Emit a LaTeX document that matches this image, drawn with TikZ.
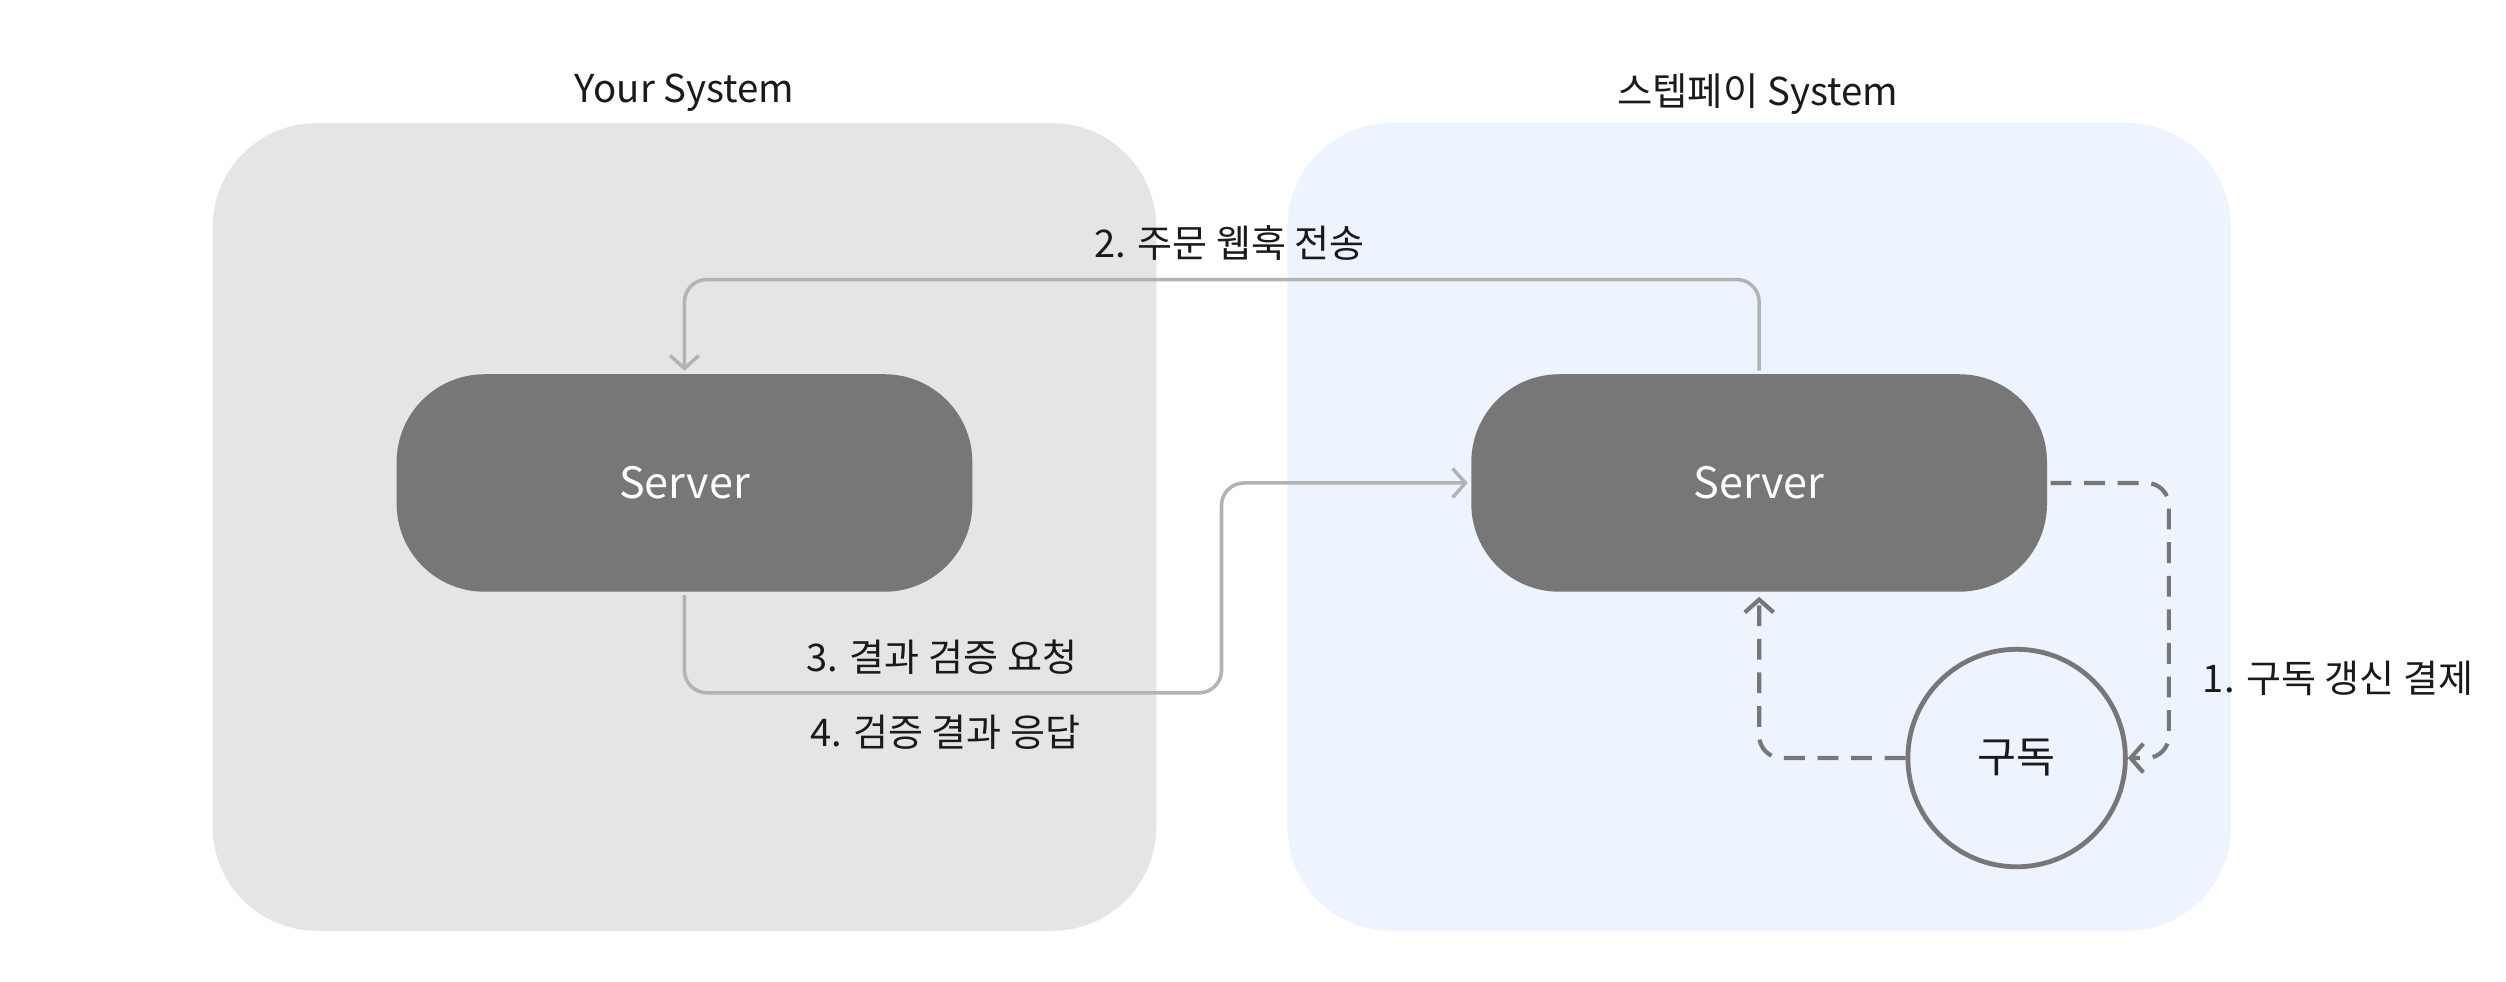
\documentclass[tikz,border=0pt]{standalone}
\usepackage{fontspec}
\setmainfont{Noto Sans CJK KR}
\usetikzlibrary{arrows.meta}
\definecolor{leftbg}{HTML}{E5E5E5}
\definecolor{rightbg}{HTML}{EDF4FE}
\definecolor{srv}{HTML}{777777}
\definecolor{lightarrow}{HTML}{B3B3B3}
\definecolor{darkline}{HTML}{777777}
\definecolor{txt}{HTML}{1A1A1A}
\tikzset{
  zone/.style={rounded corners=65pt, draw=none},
  serverbox/.style={fill=srv, draw=none, rounded corners=55pt, minimum width=360pt, minimum height=136pt, text=white, font=\fontsize{27}{32}\selectfont, inner sep=0pt},
  subnode/.style={circle, draw=darkline, line width=3pt, fill=rightbg, minimum size=136pt, inner sep=0pt, text=txt, font=\fontsize{26.5}{31}\selectfont},
  title/.style={text=txt, font=\fontsize{24}{28}\selectfont},
  lbl/.style={text=txt, font=\fontsize{23.8}{28}\selectfont},
  conn/.style={draw=lightarrow, line width=2.2pt, rounded corners=14pt, -{Straight Barb[length=8pt,width=18pt]}},
  dconn/.style={draw=darkline, line width=2.6pt, dash pattern=on 13pt off 8pt, rounded corners=14pt, -{Straight Barb[length=8pt,width=18pt]}},
}
\begin{document}
\begin{tikzpicture}[x=1pt,y=-1pt]
\useasboundingbox (0,0) rectangle (1567,614);
\fill[white] (0,0) rectangle (1567,614);
% zones
\fill[leftbg, zone] (133,77) rectangle (723,582);
\fill[rightbg, zone] (805,77) rectangle (1395,582);
\node[title] (t1) at (428,58) {Your System};
\node[title] (t2) at (1099,59) {스텝페이 System};
% servers
\node[serverbox] (s1) at (428,302) {Server};
\node[serverbox] (s2) at (1100,302) {Server};
\node[subnode] (sub) at (1261,474) {구독};
% connectors
\draw[conn, shorten <=2pt, shorten >=2pt] (s2.north) -- ++(0,-59) -| (s1.north);
\draw[conn, shorten <=2pt, shorten >=2pt] (s1.south) -- ++(0,63) -| ([xshift=-156pt]s2.west) -- (s2.west);
\draw[dconn, shorten <=2pt] (s2.east) -- ++(76,0) |- (sub.east);
\draw[dconn, shorten >=3pt] (sub.west) -| (s2.south);
% labels
\node[lbl] (l2) at (769,152) {2. 주문 웹훅 전송};
\node[lbl] (l3) at (589,411) {3. 결과 검증 요청};
\node[lbl] (l4) at (591,458) {4. 검증 결과 응답};
\node[lbl] (l1) at (1462,424) {1. 구독 갱신 결제};
\end{tikzpicture}
\end{document}
